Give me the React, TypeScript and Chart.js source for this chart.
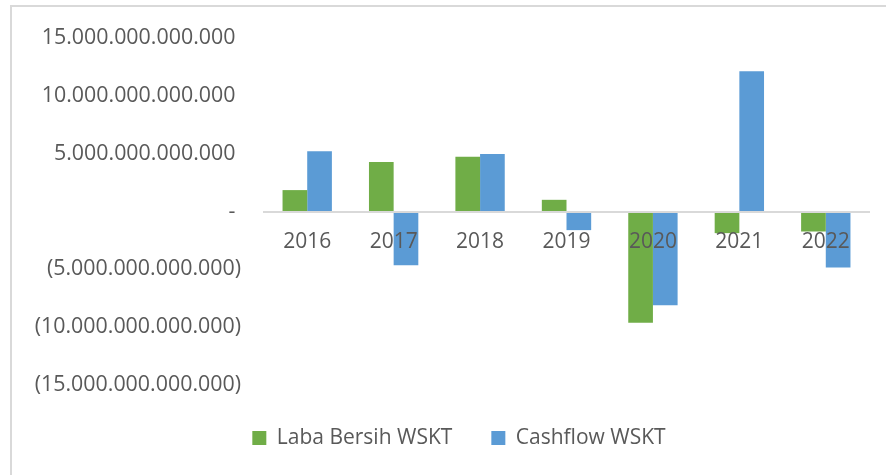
import React, { useEffect, useRef } from "react";
import { Chart, registerables } from "chart.js";

Chart.register(...registerables);

const categories = ["2016", "2017", "2018", "2019", "2020", "2021", "2022"];
const labaBersih = [1.85e12, 4.28e12, 4.74e12, 1.01e12, -9.62e12, -1.87e12, -1.73e12];
const cashflow = [5.2e12, -4.65e12, 4.97e12, -1.61e12, -8.11e12, 12.13e12, -4.85e12];
const seriesNames = ["Laba Bersih WSKT", "Cashflow WSKT"];
const yMin = -15e12;
const yMax = 15e12;
const yStep = 5e12;

const FONT = "'Open Sans', sans-serif";
const TEXT = "#595959";

function fmt(v: number): string {
  const r = Math.round(v);
  if (r === 0) return "- ";
  const s = Math.abs(r).toString().replace(/\B(?=(\d{3})+(?!\d))/g, ".");
  return r < 0 ? `(${s})` : `${s} `;
}

export default function App() {
  const ref = useRef<HTMLCanvasElement | null>(null);
  useEffect(() => {
    if (!ref.current) return;
    const chart = new Chart(ref.current, {
      type: "bar",
      data: {
        labels: categories,
        datasets: [
          { label: seriesNames[0], data: labaBersih, backgroundColor: "#70AD47" },
          { label: seriesNames[1], data: cashflow, backgroundColor: "#5B9BD5" },
        ],
      },
      options: {
        responsive: false,
        animation: false,
        devicePixelRatio: 1,
        layout: { padding: { left: 28, right: -4, top: 38, bottom: 16.4 } },
        datasets: { bar: { categoryPercentage: 0.571, barPercentage: 1 } },
        plugins: {
          legend: {
            position: "bottom",
            title: { display: true, text: "", font: { size: 3 }, padding: 0 },
            labels: {
              boxWidth: 14,
              boxHeight: 14,
              padding: 39,
              color: TEXT,
              font: { family: FONT, size: 21 },
            },
          },
          tooltip: { enabled: false },
        },
        scales: {
          x: {
            type: "category",
            position: { y: 0 } as any,
            grid: { display: false, drawTicks: false },
            border: { display: true, color: "#D9D9D9", width: 2, z: 1 },
            ticks: { z: 1, color: TEXT, font: { family: FONT, size: 21 }, padding: 18, maxRotation: 0 },
          },
          y: {
            min: yMin,
            max: yMax,
            grid: { display: false, drawTicks: false },
            border: { display: false },
            afterFit: (s: any) => {
              s.width = 236;
            },
            ticks: {
              stepSize: yStep,
              color: TEXT,
              font: { family: FONT, size: 21.4 },
              padding: 23,
              callback: (v: any) => fmt(Number(v)),
            },
          },
          y2: {
            position: "right",
            grid: { display: false, drawTicks: false },
            border: { display: false },
            ticks: { display: false },
            afterFit: (s: any) => {
              s.width = 21;
            },
          },
        },
      },
    });
    return () => chart.destroy();
  }, []);
  return (
    <div style={{ position: "absolute", left: 0, top: 0, width: 886, height: 475, overflow: "hidden", background: "#fff" }}>
      <div style={{ position: "absolute", left: 10, top: 5, width: 900, height: 500, border: "2px solid #D9D9D9" }} />
      <canvas ref={ref} width={886} height={475} style={{ position: "absolute", left: 0, top: 0 }} />
    </div>
  );
}
